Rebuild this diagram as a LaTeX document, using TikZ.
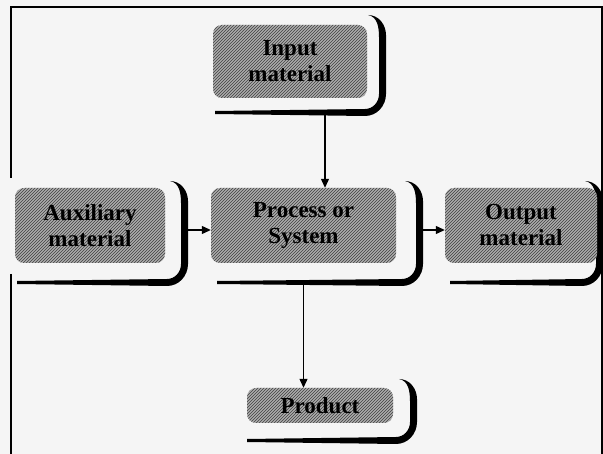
\documentclass[tikz,border=0pt]{standalone}
\usepackage{fontspec}
\setmainfont{Liberation Serif}
\usetikzlibrary{arrows.meta,patterns}
\newcommand{\shadowbr}[4]{%
  \fill[black] ({#2-14},{#3}) to[out=0,in=90] ({#2+4},{#3+20}) -- ({#2+4},{#4-18})
    to[out=-90,in=0] ({#2-17},{#4+4}) -- ({#1},{#4+2}) -- ({#1},{#4-1})
    -- ({#2-17},{#4-3}) to[out=0,in=-90] ({#2-3},{#4-18}) -- ({#2-3},{#3+22})
    to[out=90,in=-10] ({#2-14},{#3}) -- cycle;}
\begin{document}
\begin{tikzpicture}[x=1pt,y=-1pt,
  box/.style={rounded corners=9pt, fill=gray!65,
    postaction={pattern=north east lines, pattern color=black!75},
    font=\bfseries\fontsize{23}{26}\selectfont, align=center, inner sep=0pt, text=black},
  conn/.style={line width=1.2pt, -{Triangle[length=9pt,width=8pt]}}]
\useasboundingbox[fill=white!96!black] (0,0) rectangle (603,454);
\draw[line width=2pt] (11,178) -- (11,7) -- (602,7) -- (602,460);
\draw[line width=2pt] (11,274) -- (11,460);
% shadows
\shadowbr{215}{382}{15}{112}
\shadowbr{17}{184}{181}{282}
\shadowbr{217}{419}{181}{282}
\shadowbr{450}{599}{181}{282}
\shadowbr{247}{413}{379}{440}
% boxes
\node[box, minimum width=154pt, minimum height=73pt] (in) at (290,61.5) {Input\\material};
\node[box, minimum width=150pt, minimum height=75pt] (aux) at (90,225.5) {Auxiliary\\material};
\node[box, minimum width=185pt, minimum height=75pt] (proc) at (303.5,225.5) {Process or\\System};
\node[box, minimum width=152pt, minimum height=75pt] (out) at (521,225.5) {Output\\material};
\node[box, minimum width=146pt, minimum height=35pt] (prod) at (320,405.5) {Product};
% connectors
\draw[conn] ([xshift=35pt,yshift=-14pt]in.south) -- ([xshift=35pt]in.south |- proc.north);
\draw[conn] ([xshift=21pt,yshift=-4.5pt]aux.east) -- ([yshift=-4.5pt]aux.east -| proc.west);
\draw[conn] ([xshift=23pt,yshift=-4.5pt]proc.east) -- ([yshift=-4.5pt]proc.east -| out.west);
\draw[conn] ([yshift=-20pt]proc.south) -- (proc.south |- prod.north);
\end{tikzpicture}
\end{document}
